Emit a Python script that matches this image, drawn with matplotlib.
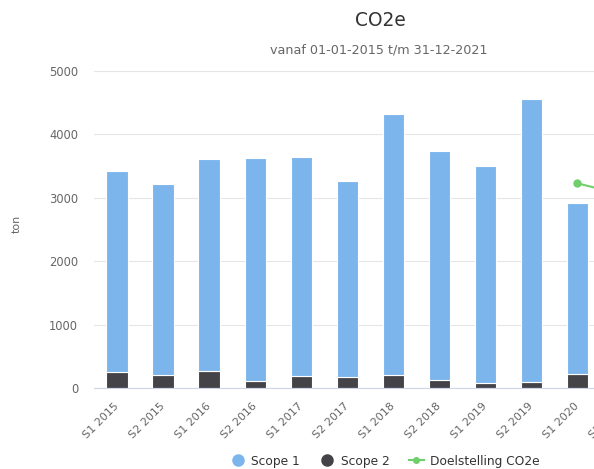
import numpy as np
import matplotlib
matplotlib.use('Agg')
import matplotlib.pyplot as plt
from matplotlib.lines import Line2D

# Periodes (halfjaren)
perioden = ['S1 2015', 'S2 2015', 'S1 2016', 'S2 2016', 'S1 2017', 'S2 2017',
            'S1 2018', 'S2 2018', 'S1 2019', 'S2 2019', 'S1 2020', 'S2 2020',
            'S1 2021', 'S2 2021']

# Uitstoot in ton CO2e
scope1 = [3166, 3012, 3342, 3513, 3449, 3101, 4117, 3607, 3432, 4458, 2693]
scope2 = [257, 210, 270, 112, 190, 169, 205, 126, 74, 100, 220]

# Doelstelling vanaf S1 2020
doel_perioden = ['S1 2020', 'S2 2020']
doel_waarden = [3228, 3050]

blauw = '#7cb5ec'
donker = '#434348'
groen = '#6fcf6a'
grijs = '#666666'

fig = plt.figure(figsize=(5.94, 4.69), dpi=100)
# plotgebied loopt rechts door buiten de afbeelding
ax = fig.add_axes([94 / 594, 81 / 469, 14 * 46.03 / 594, 317 / 469])

x = np.arange(len(scope1))
ax.bar(x, scope2, width=0.46, color=donker, edgecolor='white', linewidth=0.8, zorder=3)
ax.bar(x, scope1, width=0.46, bottom=scope2, color=blauw, edgecolor='white', linewidth=0.8, zorder=3)

doel_x = [perioden.index(p) for p in doel_perioden]
ax.plot(doel_x, doel_waarden, color=groen, linewidth=1.5, marker='o', markersize=5, zorder=4)

ax.set_xlim(-0.5, len(perioden) - 0.5)
ax.set_ylim(0, 5000)
ax.set_yticks([0, 1000, 2000, 3000, 4000, 5000])
ax.set_xticks(np.arange(len(perioden)))
ax.set_xticklabels(perioden, rotation=45, ha='right', va='center', rotation_mode='anchor')

ax.tick_params(axis='x', length=0, pad=12, labelsize=8, labelcolor=grijs)
ax.tick_params(axis='y', length=0, pad=11.5, labelsize=8.3, labelcolor=grijs)
ax.grid(axis='y', color='#e6e6e6', linewidth=0.8, zorder=0)
for kant in ['top', 'right', 'left']:
    ax.spines[kant].set_visible(False)
ax.spines['bottom'].set_color('#ccd6eb')
ax.spines['bottom'].set_linewidth(0.8)
ax.spines['bottom'].set_zorder(5)

fig.text(17 / 594, 1 - 224 / 469, 'ton', rotation=90, ha='center', va='center',
         fontsize=8, color=grijs)
fig.text(380 / 594, 1 - 20 / 469, 'CO2e', ha='center', va='center', fontsize=13.4, color='#333333')
fig.text(379 / 594, 1 - 50 / 469, 'vanaf 01-01-2015 t/m 31-12-2021', ha='center', va='center',
         fontsize=9.2, color=grijs)

handles = [
    Line2D([], [], linestyle='none', marker='o', markersize=8, color=blauw, label='Scope 1'),
    Line2D([], [], linestyle='none', marker='o', markersize=8, color=donker, label='Scope 2'),
    Line2D([], [], color=groen, linewidth=1.5, marker='o', markersize=4, label='Doelstelling CO2e'),
]
fig.legend(handles=handles, loc='center', bbox_to_anchor=(385 / 594, 1 - 461 / 469), ncol=3,
           frameon=False, fontsize=8.8, handlelength=1.2, handletextpad=0.5, columnspacing=1.6,
           labelcolor='#333333')

fig.savefig('out.png', dpi=100)
